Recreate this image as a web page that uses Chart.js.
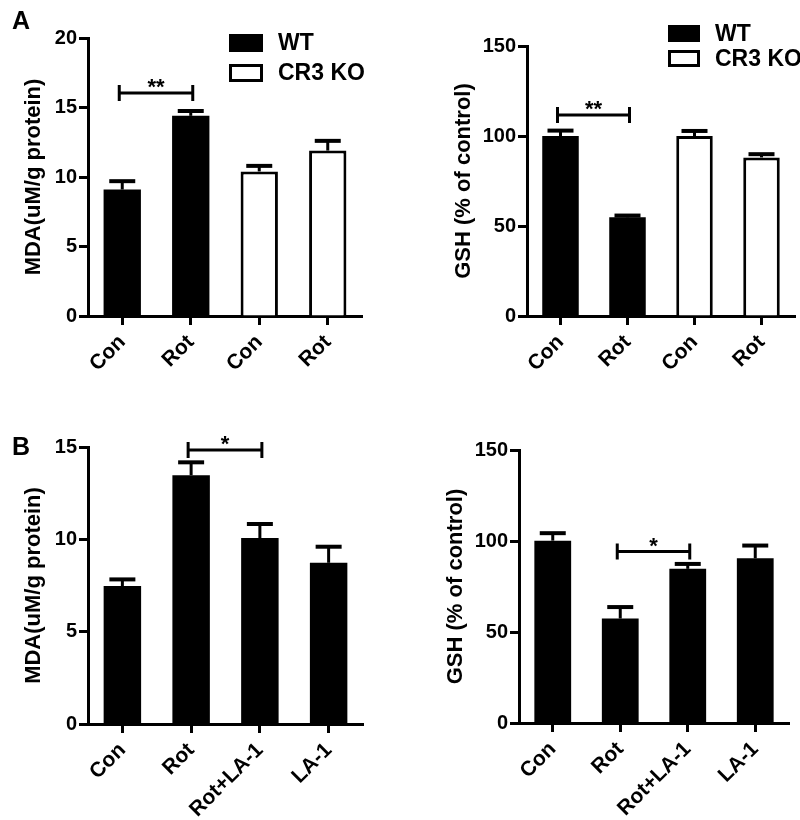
<!DOCTYPE html>
<html>
<head>
<meta charset="utf-8">
<title>MDA / GSH</title>
<script src="https://cdn.jsdelivr.net/npm/chart.js@4.4.1/dist/chart.umd.min.js"></script>
<style>
  body { margin: 0; background: #fff; }
  #wrap { position: relative; width: 800px; height: 820px; overflow: hidden; }
  canvas { position: absolute; }
  .letter { position: absolute; font: bold 25px "Liberation Sans", Arial, sans-serif; line-height: 1; color: #000; }
</style>
</head>
<body>
<div id="wrap">
  <canvas id="mdaA" width="400" height="400" style="left:0;top:0"></canvas>
  <canvas id="gshA" width="400" height="400" style="left:400px;top:0"></canvas>
  <canvas id="mdaB" width="400" height="420" style="left:0;top:400px"></canvas>
  <canvas id="gshB" width="400" height="420" style="left:400px;top:400px"></canvas>
  <div class="letter" style="left:12px;top:8px">A</div>
  <div class="letter" style="left:12px;top:434px">B</div>
</div>
<script>
// panel A: WT vs CR3 KO
const catsA = ["Con", "Rot", "Con", "Rot"];
const mdaA_WT = [9.1, 14.4, null, null];
const mdaA_KO = [null, null, 10.4, 11.9];
const mdaA_err = [0.6, 0.35, 0.4, 0.7];
const gshA_WT = [100, 54.8, null, null];
const gshA_KO = [null, null, 100, 88.1];
const gshA_err = [3, 1, 2.8, 1.8];

// panel B: LA-1 treatment
const catsB = ["Con", "Rot", "Rot+LA-1", "LA-1"];
const mdaB = [7.47, 13.47, 10.07, 8.73];
const mdaB_err = [0.36, 0.7, 0.76, 0.87];
const gshB = [100.2, 57.4, 84.7, 90.5];
const gshB_err = [4.1, 6.3, 2.7, 7.0];

const mdaTicks = [0, 5, 10, 15, 20];
const gshTicks = [0, 50, 100, 150];

const FONT = '"Liberation Sans", Arial, sans-serif';
Chart.defaults.color = "#000";
Chart.defaults.font.family = FONT;
Chart.defaults.font.weight = "bold";

// error bars (upper half only) + significance bracket
const extrasPlugin = {
    id: "extras",
    afterDatasetsDraw(chart, args, opts) {
        const ctx = chart.ctx;
        const y = chart.scales.y;
        const x = chart.scales.x;
        ctx.save();
        ctx.strokeStyle = "#000";
        ctx.lineCap = "butt";
        chart.data.datasets.forEach((ds, di) => {
            const meta = chart.getDatasetMeta(di);
            ds.data.forEach((v, i) => {
                if (v == null) return;
                const bar = meta.data[i];
                const top = y.getPixelForValue(v + opts.err[i]);
                ctx.lineWidth = 3;
                ctx.beginPath();
                ctx.moveTo(bar.x, bar.y);
                ctx.lineTo(bar.x, top);
                ctx.stroke();
                ctx.lineWidth = 4;
                ctx.beginPath();
                ctx.moveTo(bar.x - 13, top);
                ctx.lineTo(bar.x + 13, top);
                ctx.stroke();
            });
        });
        const br = opts.bracket;
        const by = y.getPixelForValue(br.y);
        const x1 = x.getPixelForValue(br.from) - 3;
        const x2 = x.getPixelForValue(br.to) + 2;
        ctx.lineWidth = 3;
        ctx.beginPath();
        ctx.moveTo(x1, by); ctx.lineTo(x2, by);
        ctx.moveTo(x1, by - 8); ctx.lineTo(x1, by + 8);
        ctx.moveTo(x2, by - 8); ctx.lineTo(x2, by + 8);
        ctx.stroke();
        ctx.fillStyle = "#000";
        ctx.font = "bold 22px " + FONT;
        ctx.textAlign = "center";
        ctx.textBaseline = "alphabetic";
        ctx.fillText(br.label, (x1 + x2) / 2, by + 1);
        ctx.restore();
    }
};

// legend box in the corner (panel A only)
const boxLegend = {
    id: "boxLegend",
    afterDraw(chart, args, opts) {
        if (!opts.show) return;
        const ctx = chart.ctx;
        ctx.save();
        ctx.font = "bold 23px " + FONT;
        ctx.textBaseline = "middle";
        ctx.textAlign = "left";
        chart.data.datasets.forEach((ds, i) => {
            const yy = opts.y + i * opts.gap;
            if (ds.backgroundColor === "#000") {
                ctx.fillStyle = "#000";
                ctx.fillRect(opts.x, yy, opts.w, opts.h);
            } else {
                ctx.strokeStyle = "#000";
                ctx.lineWidth = 3;
                ctx.strokeRect(opts.x + 1.5, yy + 1.5, opts.w - 3, opts.h - 3);
            }
            ctx.fillStyle = "#000";
            ctx.fillText(ds.label, opts.x + opts.w + 15, yy + opts.h / 2 + 1);
        });
        ctx.restore();
    }
};

function makeChart(id, cats, datasets, p) {
    return new Chart(id, {
        type: "bar",
        data: { labels: cats, datasets: datasets },
        options: {
            responsive: false,
            animation: false,
            layout: { padding: { left: p.padL, right: p.padR, top: p.padT, bottom: 0 } },
            plugins: {
                legend: { display: false },
                tooltip: { enabled: false },
                extras: { err: p.err, bracket: p.bracket },
                boxLegend: p.legend || { show: false }
            },
            datasets: { bar: { grouped: false, barPercentage: 0.545, categoryPercentage: 1 } },
            scales: {
                x: {
                    afterFit: (s) => { s.height = p.xH; },
                    grid: { offset: false, drawOnChartArea: false, drawTicks: true, tickLength: 9, tickWidth: 3, tickColor: "#000" },
                    border: { display: true, color: "#000", width: 3 },
                    ticks: { autoSkip: false, maxRotation: 45, minRotation: 45, padding: 5, font: { size: 21, weight: "bold" } }
                },
                y: {
                    min: 0,
                    max: p.ticks[p.ticks.length - 1],
                    afterFit: (s) => { s.width = p.yW; },
                    afterBuildTicks: (s) => { s.ticks = p.ticks.map(v => ({ value: v })); },
                    grid: { drawOnChartArea: false, drawTicks: true, tickLength: 9, tickWidth: 3, tickColor: "#000" },
                    border: { display: true, color: "#000", width: 3 },
                    ticks: { padding: 2, font: { size: 20, weight: "bold" } },
                    title: { display: true, text: p.title, padding: { top: 11, bottom: 0 }, font: { size: 22, weight: "bold" } }
                }
            }
        },
        plugins: [extrasPlugin, boxLegend]
    });
}

const wtStyle = { backgroundColor: "#000", borderColor: "#000", borderWidth: 0 };
const koStyle = { backgroundColor: "#fff", borderColor: "#000", borderWidth: 3 };

makeChart("mdaA", catsA, [
    Object.assign({ label: "WT", data: mdaA_WT }, wtStyle),
    Object.assign({ label: "CR3 KO", data: mdaA_KO }, koStyle)
], {
    padL: 10, yW: 78, padR: 38, padT: 38, xH: 84, ticks: mdaTicks,
    title: "MDA(uM/g protein)", err: mdaA_err,
    bracket: { from: 0, to: 1, y: 16.05, label: "**" },
    legend: { show: true, x: 229, y: 34, w: 34, h: 18, gap: 30 }
});

makeChart("gshA", catsA, [
    Object.assign({ label: "WT", data: gshA_WT }, wtStyle),
    Object.assign({ label: "CR3 KO", data: gshA_KO }, koStyle)
], {
    padL: 40, yW: 87, padR: 5, padT: 46, xH: 84, ticks: gshTicks,
    title: "GSH (% of control)", err: gshA_err,
    bracket: { from: 0, to: 1, y: 111.7, label: "**" },
    legend: { show: true, x: 268, y: 25, w: 32, h: 17, gap: 25 }
});

makeChart("mdaB", catsB, [
    Object.assign({ label: "MDA", data: mdaB }, wtStyle)
], {
    padL: 10, yW: 78, padR: 37, padT: 47, xH: 96, ticks: mdaTicks.slice(0, 4),
    title: "MDA(uM/g protein)", err: mdaB_err,
    bracket: { from: 1, to: 2, y: 14.84, label: "*" }
});

makeChart("gshB", catsB, [
    Object.assign({ label: "GSH", data: gshB }, wtStyle)
], {
    padL: 32, yW: 87, padR: 11, padT: 50, xH: 97, ticks: gshTicks,
    title: "GSH (% of control)", err: gshB_err,
    bracket: { from: 1, to: 2, y: 94.2, label: "*" }
});
</script>
</body>
</html>
